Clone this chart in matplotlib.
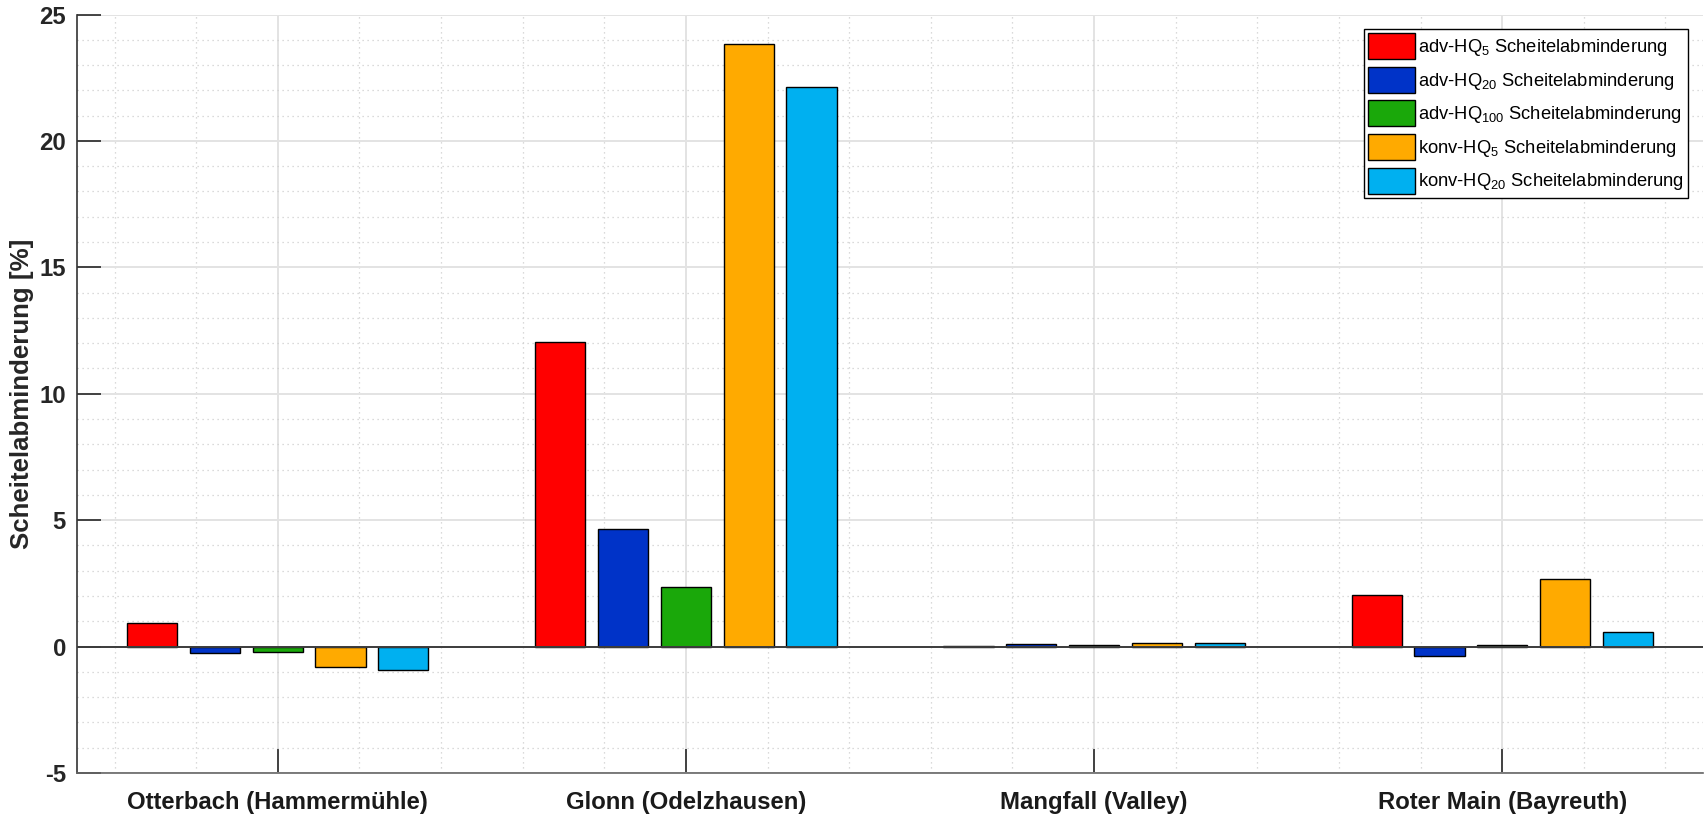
import numpy as np
import matplotlib
matplotlib.use("Agg")
import matplotlib.pyplot as plt
from matplotlib.ticker import MultipleLocator, FixedLocator

# Gauges and peak-reduction results per scenario
stations = ["Otterbach (Hammermühle)", "Glonn (Odelzhausen)",
            "Mangfall (Valley)", "Roter Main (Bayreuth)"]
adv_hq5 = [0.93, 12.03, 0.03, 2.05]
adv_hq20 = [-0.25, 4.67, 0.10, -0.37]
adv_hq100 = [-0.21, 2.36, 0.08, 0.07]
konv_hq5 = [-0.80, 23.85, 0.15, 2.66]
konv_hq20 = [-0.91, 22.13, 0.15, 0.59]

series = [adv_hq5, adv_hq20, adv_hq100, konv_hq5, konv_hq20]
labels = ["adv-HQ$_{5}$ Scheitelabminderung",
          "adv-HQ$_{20}$ Scheitelabminderung",
          "adv-HQ$_{100}$ Scheitelabminderung",
          "konv-HQ$_{5}$ Scheitelabminderung",
          "konv-HQ$_{20}$ Scheitelabminderung"]
colors = ["#ff0000", "#0033c8", "#1aa80a", "#ffaa00", "#00b0f0"]

plt.rcParams["font.family"] = ["Liberation Sans", "DejaVu Sans"]
plt.rcParams["mathtext.default"] = "regular"
plt.rcParams["axes.unicode_minus"] = False

fig = plt.figure(figsize=(17.05, 8.16), dpi=100)
ax = fig.add_axes([77 / 1705, 1 - 773 / 816, (1703 - 77) / 1705, (773 - 14.5) / 816])

x = np.arange(1, len(stations) + 1)
n = len(series)
group_w = min(0.8, n / (n + 1.5))
step = group_w / n
bar_w = step * 0.8
for i, (vals, lab, col) in enumerate(zip(series, labels, colors)):
    offs = (i - (n - 1) / 2) * step
    ax.bar(x + offs, vals, width=bar_w, color=col, edgecolor="black",
           linewidth=1.0, label=lab, zorder=3)

ax.axhline(0, color="#3c3c3c", linewidth=1.4, zorder=4)

ax.set_xlim(0.508, 4.492)
ax.set_ylim(-5, 25)
ax.set_xticks(x)
ax.set_xticklabels(stations, fontsize=17.2, fontweight="bold", color="#1a1a1a")
ax.yaxis.set_major_locator(MultipleLocator(5))
ax.yaxis.set_minor_locator(MultipleLocator(1))
ax.xaxis.set_minor_locator(FixedLocator(np.arange(0.6, 4.5, 0.2)))
for lab in ax.get_yticklabels():
    lab.set_fontweight("bold")
ax.tick_params(axis="y", which="major", direction="in", length=17, width=1.2,
               color="#262626", labelsize=17.2, labelcolor="#262626", pad=8)
ax.tick_params(axis="x", which="major", direction="in", length=17, width=1.2,
               color="#262626", pad=13)
ax.tick_params(which="minor", length=0)

ax.grid(True, which="major", color="#e3e3e3", linewidth=1.4, zorder=0)
ax.grid(True, which="minor", color="#cfcfcf", linewidth=0.9,
        linestyle=(0, (1, 3)), zorder=0)
ax.set_axisbelow(True)

for side in ("top", "right"):
    ax.spines[side].set_visible(False)
ax.spines["left"].set_color("#333333")
ax.spines["left"].set_linewidth(1.2)
ax.spines["bottom"].set_color("#666666")
ax.spines["bottom"].set_linewidth(1.2)

ax.set_ylabel("Scheitelabminderung [%]", fontsize=18.6, fontweight="bold",
              color="#262626")
ax.yaxis.set_label_coords(-0.0264, 0.5)

leg = ax.legend(loc="upper right", bbox_to_anchor=(1688 / 1705, 1 - 29 / 816),
                bbox_transform=fig.transFigure, borderaxespad=0,
                fontsize=13.2, fancybox=False, framealpha=1, edgecolor="black",
                handlelength=2.56, handleheight=1.8, handletextpad=0.15,
                labelspacing=0.42, borderpad=0.22)
leg.get_frame().set_linewidth(1.0)

fig.savefig("out.png", dpi=100)
